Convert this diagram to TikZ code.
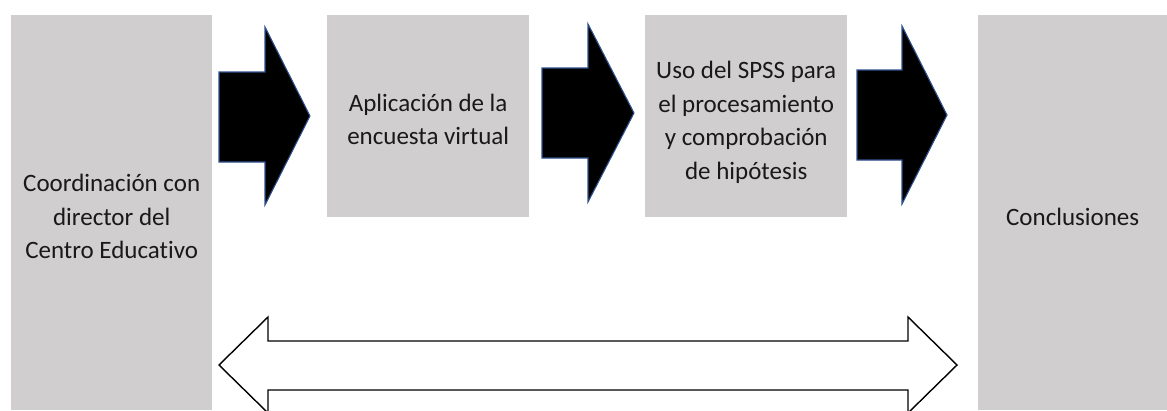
\documentclass[tikz,border=0pt]{standalone}
\usepackage{fontspec}
\setmainfont{Carlito}[Ligatures=NoCommon]
\begin{document}
\begin{tikzpicture}[x=1pt,y=-1pt,
  box/.style={fill=boxgray,draw=none,anchor=north west,inner sep=0pt},
  txt/.style={inner sep=0pt,align=center,font=\fontsize{25}{33.5}\selectfont,text=black!90},
  blockarrow/.style={fill=black,draw=arrowblue,line width=1.1pt,line join=miter},
  twoway/.style={fill=white,draw=black,line width=1.4pt,line join=miter}]
\definecolor{boxgray}{RGB}{208,206,206}
\definecolor{arrowblue}{RGB}{47,82,143}
\useasboundingbox (0,0) rectangle (1167,410);
\clip (0,0) rectangle (1167,410);
\node[box,minimum width=201pt,minimum height=395pt] (b1) at (11,15) {};
\node[box,minimum width=202pt,minimum height=202pt] (b2) at (327,15) {};
\node[box,minimum width=202pt,minimum height=202pt] (b3) at (645,15) {};
\node[box,minimum width=189pt,minimum height=395pt] (b4) at (978,15) {};
\node[txt,yshift=-4pt] (t1) at (b1.center) {Coordinación con\\director del\\Centro Educativo};
\node[txt,yshift=-3pt] (t2) at (b2.center) {Aplicación de la\\encuesta virtual};
\node[txt,yshift=-6pt] (t3) at (b3.center) {Uso del SPSS para\\el procesamiento\\y comprobación\\de hipótesis};
\node[txt,yshift=-4pt] (t4) at (b4.center) {Conclusiones};
% block arrows between boxes
\draw[blockarrow] (219,72) -- (265,72) -- (265,27) -- (310,116) -- (265,205) -- (265,162) -- (219,162) -- cycle;
\draw[blockarrow] (542,68) -- (588,68) -- (588,24) -- (634,113) -- (588,202) -- (588,158) -- (542,158) -- cycle;
\draw[blockarrow] (857,70) -- (902,70) -- (902,26) -- (947,115) -- (902,204) -- (902,160) -- (857,160) -- cycle;
% double-headed arrow
\draw[twoway] (219,365) -- (268,317) -- (268,341) -- (908,341) -- (908,317) -- (957,365) -- (908,413) -- (908,390) -- (268,390) -- (268,413) -- cycle;
\end{tikzpicture}
\end{document}
